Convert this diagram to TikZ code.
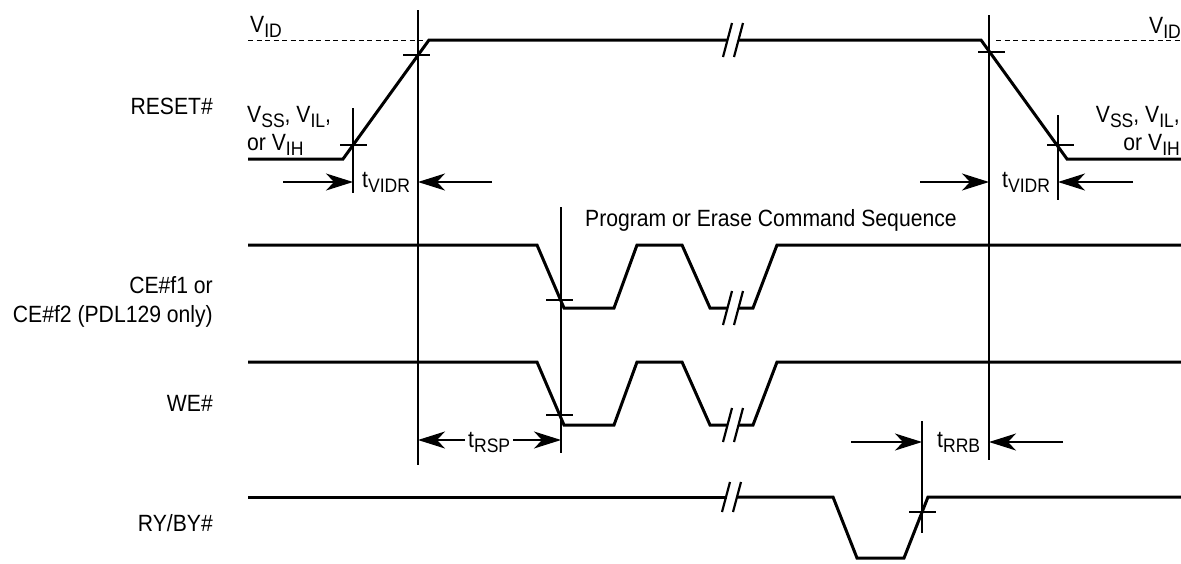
\documentclass[tikz,border=0pt]{standalone}
\usepackage{fontspec}
\setmainfont{Liberation Sans}[FakeStretch=0.9]
\usetikzlibrary{arrows.meta}
\newcommand\sbs[1]{\raisebox{-5pt}{\fontsize{19.5}{19.5}\selectfont #1}}
\begin{document}
\begin{tikzpicture}[x=1pt,y=-1pt,
  wave/.style={line width=3pt, line join=miter},
  brk/.style={line width=2.2pt},
  guide/.style={line width=1.1pt},
  tick/.style={line width=1.1pt},
  refl/.style={line width=1pt, dash pattern=on 5pt off 3.5pt},
  dim/.style={line width=1.2pt, -{Stealth[length=27pt,width=17pt,inset=8pt]}},
  lbl/.style={inner sep=0pt, font=\fontsize{23.5}{28}\selectfont}]
\useasboundingbox (0,0) rectangle (1181,563);

% ---------- signal names ----------
\node[lbl, anchor=base east] (nReset) at (213,114) {RESET\#};
\node[lbl, anchor=base east] (nCe1) at (213,293) {CE\#f1 or};
\node[lbl, anchor=base east] (nCe2) at (213,322) {CE\#f2 (PDL129 only)};
\node[lbl, anchor=base east] (nWe) at (213,411) {WE\#};
\node[lbl, anchor=base east] (nRy) at (213,531) {RY/BY\#};

% ---------- level labels ----------
\node[lbl, anchor=base west] (vidL) at (250,32) {V\sbs{ID}};
\node[lbl, anchor=base east] (vidR) at (1181,33) {V\sbs{ID}};
\node[lbl, anchor=base west] (vssL) at (247,122) {V\sbs{SS}, V\sbs{IL},};
\node[lbl, anchor=base west] (vihL) at (247,150) {or V\sbs{IH}};
\node[lbl, anchor=base east] (vssR) at (1180,122) {V\sbs{SS}, V\sbs{IL},};
\node[lbl, anchor=base east] (vihR) at (1180,150) {or V\sbs{IH}};

% ---------- V_ID reference lines ----------
\draw[refl] (248,40) -- (429,40);
\draw[refl] (996,40) -- (1181,40);

% ---------- RESET# ----------
\draw[wave] (248,159) -- (343,159) -- (429,40) -- (727.5,40);
\draw[wave] (738.5,40) -- (981,40) -- (1067,159) -- (1181,159);
\draw[brk] (723,57) -- (732,23);
\draw[brk] (734,57) -- (743,23);

% ---------- CE# ----------
\draw[wave] (248,245) -- (537,245) -- (564,308) -- (614,308) -- (637,245)
  -- (682,245) -- (710,308) -- (727.5,308);
\draw[wave] (738.5,308) -- (753,308) -- (777,245) -- (1181,245);
\draw[brk] (723,325) -- (732,291);
\draw[brk] (734,325) -- (743,291);

% ---------- WE# ----------
\draw[wave] (248,362) -- (537,362) -- (564,425) -- (614,425) -- (637,362)
  -- (682,362) -- (710,425) -- (727.5,425);
\draw[wave] (738.5,425) -- (753,425) -- (777,362) -- (1181,362);
\draw[brk] (723,442) -- (732,408);
\draw[brk] (734,442) -- (743,408);

% ---------- RY/BY# ----------
\draw[wave] (248,497) -- (726.5,497);
\draw[wave] (736.5,497) -- (833,497) -- (857,558) -- (904,558) -- (928,497) -- (1181,497);
\draw[brk] (722,512) -- (730,482);
\draw[brk] (733,512) -- (741,482);

% ---------- vertical timing references ----------
\coordinate (gAt) at (418,10);   \coordinate (gAb) at (418,465);
\coordinate (gBt) at (353,108);  \coordinate (gBb) at (353,193);
\coordinate (gCt) at (989,15);   \coordinate (gCb) at (989,460);
\coordinate (gDt) at (1058,115); \coordinate (gDb) at (1058,200);
\coordinate (gEt) at (561,207);  \coordinate (gEb) at (561,453);
\coordinate (gFt) at (922,421);  \coordinate (gFb) at (922,533);
\draw[guide] (gAt) -- (gAb);
\draw[guide] (gBt) -- (gBb);
\draw[guide] (gCt) -- (gCb);
\draw[guide] (gDt) -- (gDb);
\draw[guide] (gEt) -- (gEb);
\draw[guide] (gFt) -- (gFb);

% ---------- crossing ticks ----------
\draw[tick] (340,145) -- (367,145);
\draw[tick] (403,55) -- (430,55);
\draw[tick] (978,52) -- (1005,52);
\draw[tick] (1047,145) -- (1074,145);
\draw[tick] (546,300) -- (573,300);
\draw[tick] (546,415) -- (573,415);
\draw[tick] (909,512) -- (936,512);

% ---------- timing labels ----------
\node[lbl, anchor=base west] (tVidrL) at (362,187) {t\sbs{VIDR}};
\node[lbl, anchor=base west] (tVidrR) at (1002,187) {t\sbs{VIDR}};
\node[lbl, anchor=base west] (prog) at (585,226) {Program or Erase Command Sequence};
\node[lbl, anchor=base west] (tRsp) at (468,447) {t\sbs{RSP}};
\node[lbl, anchor=base west] (tRrb) at (937,447) {t\sbs{RRB}};

% ---------- dimension arrows ----------
\coordinate (a1s) at (283,182);  \coordinate (a1e) at (353,182);
\coordinate (a2s) at (492,182);  \coordinate (a2e) at (418,182);
\coordinate (a3s) at (920,182);  \coordinate (a3e) at (989,182);
\coordinate (a4s) at (1133,182); \coordinate (a4e) at (1058,182);
\coordinate (a5s) at (465,440);  \coordinate (a5e) at (418,440);
\coordinate (a6s) at (513,440);  \coordinate (a6e) at (561,440);
\coordinate (a7s) at (851,442);  \coordinate (a7e) at (922,442);
\coordinate (a8s) at (1063,442); \coordinate (a8e) at (989,442);
\draw[dim] (a1s) -- (a1e);
\draw[dim] (a2s) -- (a2e);
\draw[dim] (a3s) -- (a3e);
\draw[dim] (a4s) -- (a4e);
\draw[dim] (a5s) -- (a5e);
\draw[dim] (a6s) -- (a6e);
\draw[dim] (a7s) -- (a7e);
\draw[dim] (a8s) -- (a8e);
\end{tikzpicture}
\end{document}
